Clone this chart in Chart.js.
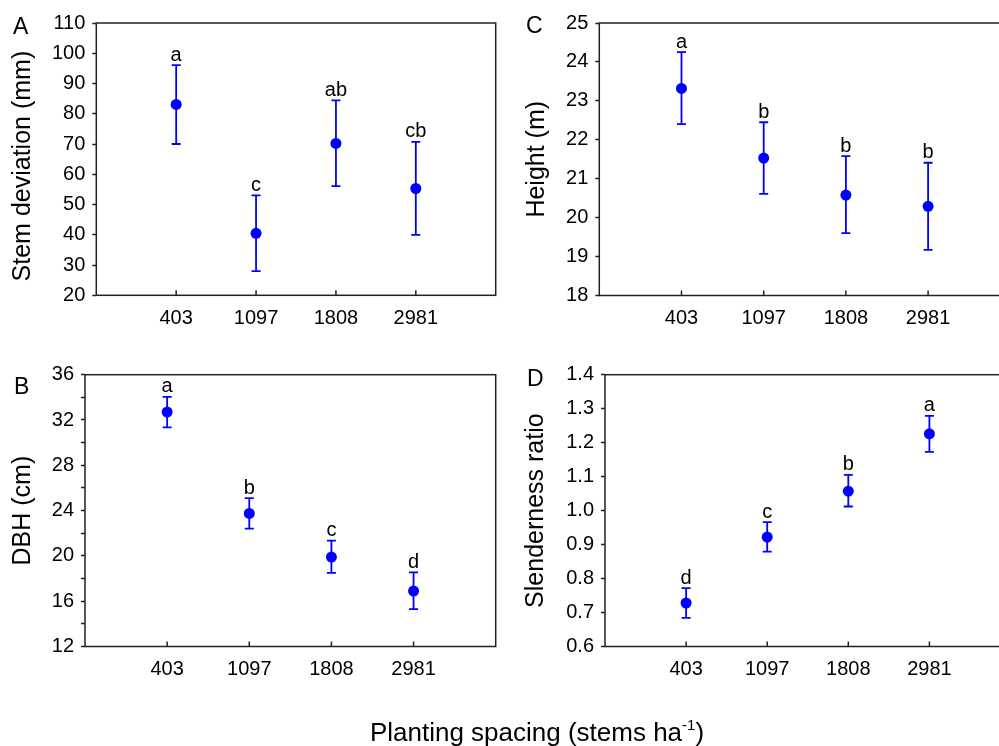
<!DOCTYPE html>
<html>
<head>
<meta charset="utf-8">
<title>Planting spacing effects</title>
<script src="https://cdn.jsdelivr.net/npm/chart.js@4/dist/chart.umd.min.js"></script>
<style>
  html, body { margin: 0; padding: 0; background: #fff; width: 999px; height: 746px; overflow: hidden; }
  .panel { position: absolute; overflow: hidden; }
  .panel canvas { position: absolute; left: 0; top: 0; }
  .tag { position: absolute; font-family: "Liberation Sans", Arial, sans-serif; font-size: 23px; line-height: 23px; color: #000; }
  #xtitle { position: absolute; top: 717px; left: 537px; transform: translateX(-50%); white-space: nowrap;
            font-family: "Liberation Sans", Arial, sans-serif; font-size: 26px; line-height: 30px; color: #000; }
  #xtitle .sup { font-size: 15px; position: relative; top: -11px; }
</style>
</head>
<body>
<div class="panel" id="boxA" style="left:0;top:0;width:499px;height:345px"><canvas id="chartA" width="499" height="345"></canvas></div>
<div class="panel" id="boxB" style="left:0;top:350px;width:499px;height:396px"><canvas id="chartB" width="499" height="396"></canvas></div>
<div class="panel" id="boxC" style="left:500px;top:0;width:499px;height:345px"><canvas id="chartC" width="514" height="345"></canvas></div>
<div class="panel" id="boxD" style="left:500px;top:350px;width:499px;height:396px"><canvas id="chartD" width="514" height="396"></canvas></div>

<div class="tag" style="left:13px;top:15px">A</div>
<div class="tag" style="left:14px;top:375px">B</div>
<div class="tag" style="left:526px;top:14px">C</div>
<div class="tag" style="left:527px;top:367px">D</div>

<div id="xtitle">Planting spacing (stems ha<span class="sup">-1</span>)</div>

<script>
// Planting densities (stems per hectare), one category per treatment
const spacing = ['403', '1097', '1808', '2981'];

// A: stem deviation (mm) — mean with lower/upper interval limits
const stemDevMean = [83.1, 40.5, 70.2, 55.3];
const stemDevLow  = [70.0, 28.0, 56.1, 40.0];
const stemDevHigh = [96.1, 53.0, 84.4, 70.7];
const stemDevGroups = ['a', 'c', 'ab', 'cb'];
const stemDevTicks = [20, 110, 10];

// B: diameter at breast height (cm)
const dbhMean = [32.7, 23.75, 19.9, 16.9];
const dbhLow  = [31.35, 22.4, 18.5, 15.3];
const dbhHigh = [34.05, 25.1, 21.35, 18.55];
const dbhGroups = ['a', 'b', 'c', 'd'];
const dbhTicks = [12, 36, 2];

// C: tree height (m)
const heightMean = [23.32, 21.53, 20.58, 20.29];
const heightLow  = [22.40, 20.61, 19.60, 19.17];
const heightHigh = [24.25, 22.45, 21.58, 21.41];
const heightGroups = ['a', 'b', 'b', 'b'];
const heightTicks = [18, 25, 1];

// D: slenderness ratio
const slenderMean = [0.728, 0.922, 1.057, 1.226];
const slenderLow  = [0.684, 0.879, 1.012, 1.173];
const slenderHigh = [0.772, 0.966, 1.105, 1.279];
const slenderGroups = ['d', 'c', 'b', 'a'];
const slenderTicks = [0.6, 1.4, 0.1];

const FONT = '"Liberation Sans", Arial, sans-serif';
const BLUE = '#0000ff';
const INK = '#222';

// Frame around the plot area plus short inward tick marks on the category axis
const framePlugin = {
  id: 'frame',
  afterDraw(chart) {
    const { ctx, chartArea: a, scales: { x } } = chart;
    ctx.save();
    ctx.strokeStyle = INK;
    ctx.lineWidth = 1.5;
    ctx.strokeRect(a.left, a.top, a.right - a.left, a.bottom - a.top);
    ctx.beginPath();
    for (let i = 1; i <= spacing.length; i++) {
      const px = x.getPixelForValue(i);
      ctx.moveTo(px, a.bottom);
      ctx.lineTo(px, a.bottom - 5);
    }
    ctx.stroke();
    ctx.restore();
  }
};

// Significance letters written just above each upper whisker
function lettersPlugin(high, groups) {
  return {
    id: 'groupLetters',
    afterDatasetsDraw(chart) {
      const { ctx, scales: { x, y } } = chart;
      ctx.save();
      ctx.font = '20px ' + FONT;
      ctx.fillStyle = '#000';
      ctx.textAlign = 'center';
      ctx.textBaseline = 'alphabetic';
      groups.forEach((g, i) => {
        ctx.fillText(g, x.getPixelForValue(i + 1), y.getPixelForValue(high[i]) - 4.5);
      });
      ctx.restore();
    }
  };
}

function makePanel(id, p) {
  const [yMin, yMax, yStep] = p.ticks;
  const datasets = [];
  p.mean.forEach((m, i) => {
    datasets.push({
      data: [{ x: i + 1, y: p.low[i] }, { x: i + 1, y: p.high[i] }],
      showLine: true,
      borderColor: BLUE,
      borderWidth: 1.8,
      pointStyle: 'line',
      pointRadius: 4.5,
      pointBorderWidth: 1.8,
      pointBorderColor: BLUE,
      pointBackgroundColor: BLUE
    });
  });
  datasets.push({
    data: p.mean.map((m, i) => ({ x: i + 1, y: m })),
    pointStyle: 'circle',
    pointRadius: 5.5,
    pointBorderWidth: 0,
    pointBackgroundColor: BLUE,
    borderColor: BLUE
  });

  return new Chart(document.getElementById(id), {
    type: 'scatter',
    data: { datasets },
    plugins: [framePlugin, lettersPlugin(p.high, p.groups)],
    options: {
      responsive: false,
      animation: false,
      devicePixelRatio: 1,
      events: [],
      layout: { autoPadding: false, padding: { left: 0, top: p.padTop, right: p.padRight, bottom: 0 } },
      plugins: { legend: { display: false }, tooltip: { enabled: false } },
      scales: {
        x: {
          type: 'linear',
          min: 0,
          max: spacing.length + 1,
          afterFit(s) { s.height = p.xHeight; s.paddingLeft = 0; s.paddingRight = 0; },
          grid: { display: false, drawTicks: false },
          border: { display: false },
          ticks: {
            stepSize: 1,
            autoSkip: false,
            maxRotation: 0,
            padding: 11,
            color: '#000',
            font: { family: FONT, size: 20 },
            callback: v => spacing[v - 1] || ''
          }
        },
        y: {
          min: yMin,
          max: yMax,
          afterFit(s) { s.width = p.yWidth; },
          grid: { display: true, drawOnChartArea: false, drawTicks: true, tickLength: 4, tickWidth: 1.5, tickColor: INK },
          border: { display: false },
          title: {
            display: true,
            text: p.title,
            color: '#000',
            font: { family: FONT, size: 25, lineHeight: 1.2 },
            padding: { top: p.titlePad, bottom: 0 }
          },
          ticks: {
            stepSize: yStep,
            autoSkip: false,
            padding: 7,
            color: '#000',
            font: { family: FONT, size: 20 },
            callback: p.fmt
          }
        }
      }
    }
  });
}

makePanel('chartA', {
  mean: stemDevMean, low: stemDevLow, high: stemDevHigh, groups: stemDevGroups, ticks: stemDevTicks,
  title: 'Stem deviation (mm)\u00a0\u00a0', fmt: v => String(Math.round(v)),
  padTop: 23, padRight: 3.3, yWidth: 96.3, xHeight: 49.7, titlePad: 8
});
makePanel('chartB', {
  mean: dbhMean, low: dbhLow, high: dbhHigh, groups: dbhGroups, ticks: dbhTicks,
  title: 'DBH (cm)', fmt: v => (Math.round(v) % 4 === 0 ? String(Math.round(v)) : ''),
  padTop: 24.7, padRight: 3.3, yWidth: 85, xHeight: 99.5, titlePad: 8
});
makePanel('chartC', {
  mean: heightMean, low: heightLow, high: heightHigh, groups: heightGroups, ticks: heightTicks,
  title: 'Height (m)', fmt: v => String(Math.round(v)),
  padTop: 23, padRight: 3.7, yWidth: 99.3, xHeight: 49.5, titlePad: 22.5
});
makePanel('chartD', {
  mean: slenderMean, low: slenderLow, high: slenderHigh, groups: slenderGroups, ticks: slenderTicks,
  title: 'Slenderness ratio', fmt: v => v.toFixed(1),
  padTop: 24.7, padRight: 3.5, yWidth: 105, xHeight: 99.5, titlePad: 21
});
</script>
</body>
</html>
